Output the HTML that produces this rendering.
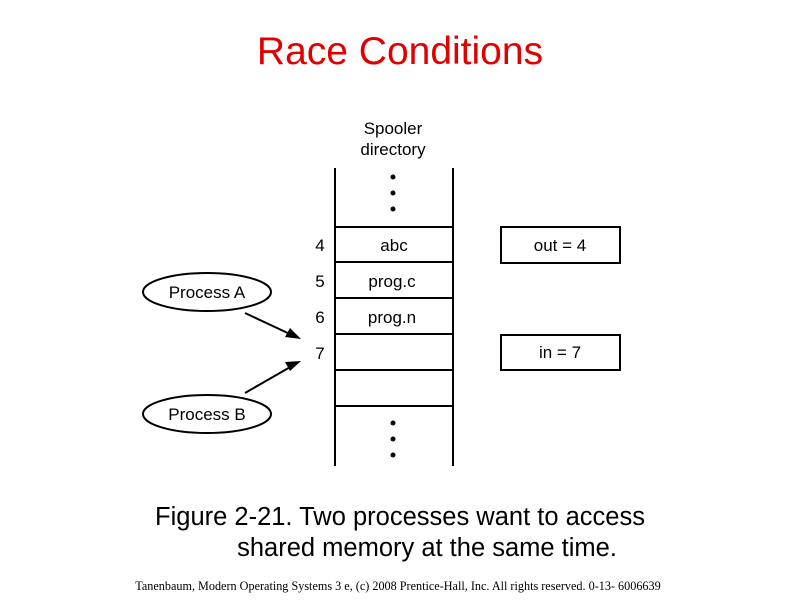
<!DOCTYPE html>
<html><head><style>
body{margin:0;background:#fff;}
</style></head><body>
<svg width="800" height="600" xmlns="http://www.w3.org/2000/svg" font-family="Liberation Sans, sans-serif">
<rect width="800" height="600" fill="#fff"/>
<text x="400" y="64" text-anchor="middle" font-size="39" fill="#e00000">Race Conditions</text>
<text x="393" y="134" text-anchor="middle" font-size="17" fill="#000">Spooler</text>
<text x="393" y="155" text-anchor="middle" font-size="17" fill="#000">directory</text>
<g stroke="#000" stroke-width="2" fill="none">
<line x1="335" y1="168" x2="335" y2="466"/>
<line x1="453" y1="168" x2="453" y2="466"/>
<line x1="335" y1="227" x2="453" y2="227"/>
<line x1="335" y1="262" x2="453" y2="262"/>
<line x1="335" y1="298" x2="453" y2="298"/>
<line x1="335" y1="334" x2="453" y2="334"/>
<line x1="335" y1="370" x2="453" y2="370"/>
<line x1="335" y1="406" x2="453" y2="406"/>
<rect x="501" y="227" width="119" height="36"/>
<rect x="501" y="335" width="119" height="35"/>
<ellipse cx="207" cy="292" rx="64" ry="19"/>
<ellipse cx="207" cy="414" rx="64" ry="19"/>
<line x1="245" y1="313" x2="292" y2="335"/>
<line x1="245" y1="393" x2="292" y2="366"/>
</g>
<polygon points="301,339 285,337 290,328" fill="#000"/>
<polygon points="301,361 290,371 285,362" fill="#000"/>
<g fill="#000">
<circle cx="393" cy="177" r="2.5"/><circle cx="393" cy="193" r="2.5"/><circle cx="393" cy="209" r="2.5"/>
<circle cx="393" cy="423" r="2.5"/><circle cx="393" cy="439" r="2.5"/><circle cx="393" cy="455" r="2.5"/>
</g>
<g font-size="17" fill="#000">
<text x="320" y="251" text-anchor="middle">4</text>
<text x="320" y="287" text-anchor="middle">5</text>
<text x="320" y="323" text-anchor="middle">6</text>
<text x="320" y="359" text-anchor="middle">7</text>
<text x="394" y="251" text-anchor="middle">abc</text>
<text x="392" y="287" text-anchor="middle">prog.c</text>
<text x="392" y="323" text-anchor="middle">prog.n</text>
<text x="560" y="251" text-anchor="middle">out = 4</text>
<text x="560" y="358" text-anchor="middle">in = 7</text>
<text x="207" y="298" text-anchor="middle">Process A</text>
<text x="207" y="420" text-anchor="middle">Process B</text>
</g>
<text x="400" y="525" text-anchor="middle" font-size="25.5" fill="#000">Figure 2-21. Two processes want to access</text>
<text x="427" y="556" text-anchor="middle" font-size="25.5" fill="#000">shared memory at the same time.</text>
<text x="398" y="590" text-anchor="middle" font-size="12.2" font-family="Liberation Serif, serif" fill="#000">Tanenbaum, Modern Operating Systems 3 e, (c) 2008 Prentice-Hall, Inc. All rights reserved. 0-13- 6006639</text>
</svg>
</body></html>
